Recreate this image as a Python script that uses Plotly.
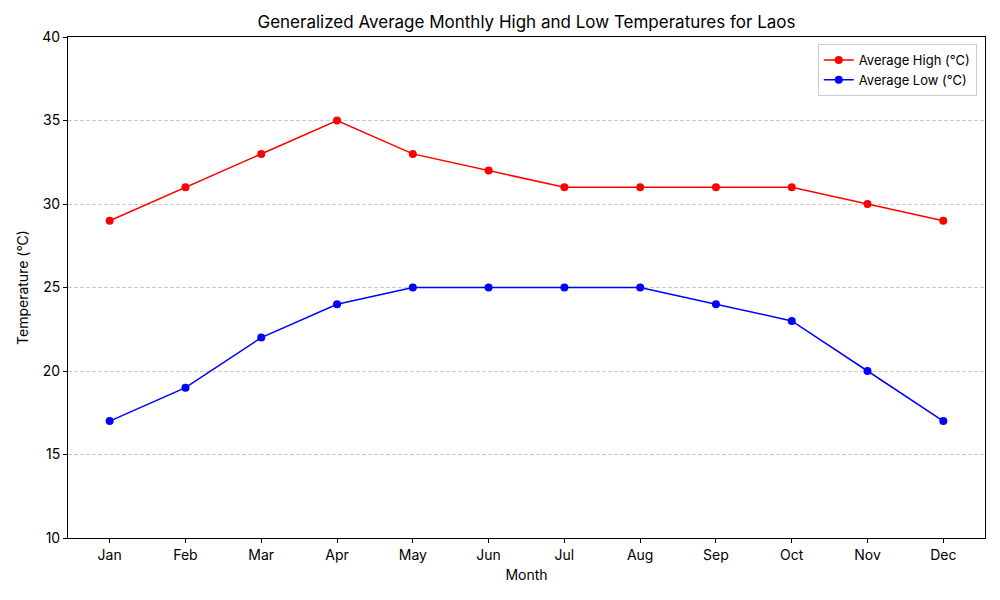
import plotly.graph_objects as go

months = ["Jan", "Feb", "Mar", "Apr", "May", "Jun", "Jul", "Aug", "Sep", "Oct", "Nov", "Dec"]
avg_high = [29, 31, 33, 35, 33, 32, 31, 31, 31, 31, 30, 29]
avg_low = [17, 19, 22, 24, 25, 25, 25, 25, 24, 23, 20, 17]
y_ticks = [10, 15, 20, 25, 30, 35, 40]

FONT = "Inter"

fig = go.Figure()
fig.add_trace(go.Scatter(x=list(range(len(months))), y=avg_high, mode="lines+markers",
                         name="Average High (°C)", line=dict(color="red", width=1.5),
                         marker=dict(color="red", size=8)))
fig.add_trace(go.Scatter(x=list(range(len(months))), y=avg_low, mode="lines+markers",
                         name="Average Low (°C)", line=dict(color="blue", width=1.5),
                         marker=dict(color="blue", size=8)))

fig.update_layout(
    width=992, height=592,
    margin=dict(l=60, r=15, t=29, b=62, autoexpand=False),
    paper_bgcolor="white", plot_bgcolor="white",
    font=dict(family=FONT, size=14, color="black"),
    title=dict(text="Generalized Average Monthly High and Low Temperatures for Laos",
               x=0.5, xref="paper", xanchor="center", y=1, yref="paper", yanchor="bottom",
               pad=dict(b=9), font=dict(size=17), automargin=False),
    showlegend=True,
    legend=dict(x=0.991, y=0.986, xanchor="right", yanchor="top",
                bordercolor="#cccccc", borderwidth=1, bgcolor="rgba(255,255,255,0.8)",
                font=dict(size=13)),
)
fig.update_xaxes(
    tickmode="array", tickvals=list(range(len(months))), ticktext=months,
    range=[-0.55, 11.55], showgrid=False, zeroline=False, automargin=False,
    showline=True, linecolor="black", linewidth=1, mirror=True,
    ticks="outside", ticklen=4, tickcolor="black",
    title=dict(text="Month", font=dict(size=14), standoff=8),
)
fig.update_yaxes(
    tickmode="array", tickvals=y_ticks, range=[10, 40], automargin=False,
    showgrid=True, gridcolor="#cccccc", griddash="4px,2px", gridwidth=1,
    zeroline=False, showline=True, linecolor="black", linewidth=1, mirror=True,
    ticks="outside", ticklen=4, tickcolor="black",
    title=dict(text="Temperature (°C)", font=dict(size=14), standoff=10),
)
fig.write_html("out.html")
